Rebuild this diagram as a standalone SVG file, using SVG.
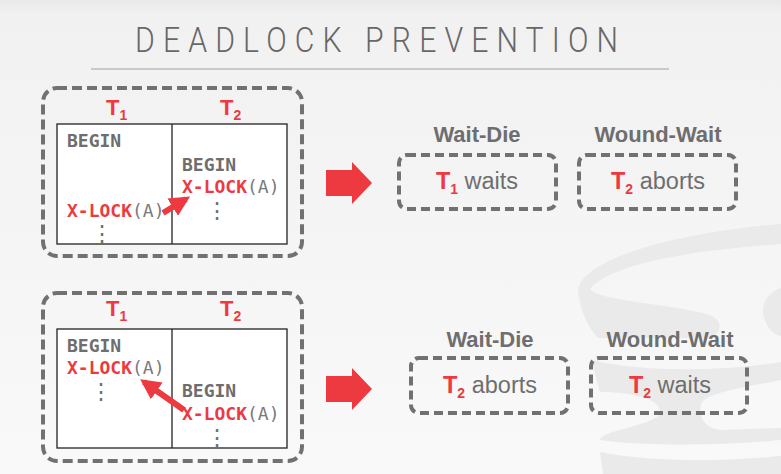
<svg xmlns="http://www.w3.org/2000/svg" width="781" height="474" viewBox="0 0 781 474">
<defs>
<linearGradient id="bg" x1="0" y1="0" x2="0" y2="1">
<stop offset="0" stop-color="#e9e9e9"/>
<stop offset="0.03" stop-color="#f1f1f1"/>
<stop offset="1" stop-color="#f9f9f9"/>
</linearGradient>
<marker id="ah" markerWidth="3.4" markerHeight="3.4" refX="2.6" refY="1.7" orient="auto" markerUnits="strokeWidth">
<path d="M0,0 L3.4,1.7 L0,3.4 Z" fill="#ec3a40"/>
</marker>
<style>
.panel{fill:none;stroke:#717171;stroke-width:4;stroke-dasharray:10 5}
.rbox{fill:none;stroke:#717171;stroke-width:4;stroke-dasharray:9 5}
.tbl{fill:#ffffff;stroke:#222;stroke-width:1.3}
.div{stroke:#222;stroke-width:1.3}
.mono{font-family:"DejaVu Sans Mono","Liberation Mono",monospace;font-size:18px;font-weight:bold;fill:#6e6e6e}
.red{fill:#ec3a40}
.arg{font-weight:normal;fill:#7a7a7a}
.tl{font-family:"Liberation Sans",Arial,sans-serif;font-size:22px;font-weight:bold;fill:#ec3a40}
.sub{font-size:14px}
.hd{font-family:"Liberation Sans",Arial,sans-serif;font-size:22px;font-weight:bold;fill:#6e6e6e;text-anchor:middle}
.res{font-family:"Liberation Sans",Arial,sans-serif;font-size:23.5px;fill:#6e6e6e;text-anchor:middle}
.rT{fill:#ec3a40;font-weight:bold}
.dots{font-family:"DejaVu Sans Mono",monospace;font-size:22px;fill:#6e6e6e;text-anchor:middle}
.wm{fill:#eaeaea}
.conn{stroke:#ec3a40;stroke-width:6;fill:none;marker-end:url(#ah)}
</style>
</defs>
<rect width="781" height="474" fill="url(#bg)"/>
<g id="watermark">
<path class="wm" d="M578,290 C582,258 680,232 781,224 L781,244 C700,250 612,262 590,289 C600,302 680,304 712,316 C724,322 722,336 704,338 L598,338 C590,330 580,312 578,290 Z"/>
<path class="wm" d="M781,288 C768,292 760,305 764,318 C768,330 775,335 781,336 Z"/>
<path class="wm" d="M592,360 C640,372 720,372 781,362 L781,380 C740,388 712,392 702,402 C696,415 705,428 720,430 L781,428 L781,440 C720,446 640,446 600,440 C600,430 660,425 660,412 C660,398 630,392 600,392 C596,380 594,370 592,360 Z"/>
<path class="wm" d="M600,452 C650,462 720,462 781,456 L781,474 L603,474 Z"/>
</g>
<g id="title">
<text transform="translate(135,52) scale(0.84,1)" textLength="575" lengthAdjust="spacing" font-family="Roboto, Liberation Sans, Arial, sans-serif" font-weight="300" font-size="36" fill="#676767">DEADLOCK PREVENTION</text>
<line x1="91" y1="69" x2="669" y2="69" stroke="#c9c9c9" stroke-width="2"/>
</g>
<g id="panel-top">
<rect class="panel" x="43" y="88" width="259" height="168" rx="14"/>
<text class="tl" x="106" y="115">T<tspan class="sub" dy="5">1</tspan></text>
<text class="tl" x="220" y="115">T<tspan class="sub" dy="5">2</tspan></text>
<rect class="tbl" x="57" y="124" width="230" height="120"/>
<line class="div" x1="172" y1="124" x2="172" y2="244"/>
<text class="mono" x="67" y="147">BEGIN</text>
<text class="mono" x="67" y="217"><tspan class="red">X-LOCK</tspan><tspan class="arg">(A)</tspan></text>
<text class="dots" x="102" y="241">⋮</text>
<text class="mono" x="182" y="171">BEGIN</text>
<text class="mono" x="182" y="193"><tspan class="red">X-LOCK</tspan><tspan class="arg">(A)</tspan></text>
<text class="dots" x="217" y="218">⋮</text>
</g>
<g id="panel-bottom">
<rect class="panel" x="43" y="293" width="259" height="168" rx="14"/>
<text class="tl" x="106" y="316">T<tspan class="sub" dy="5">1</tspan></text>
<text class="tl" x="220" y="316">T<tspan class="sub" dy="5">2</tspan></text>
<rect class="tbl" x="57" y="329" width="230" height="119"/>
<line class="div" x1="172" y1="329" x2="172" y2="448"/>
<text class="mono" x="67" y="352">BEGIN</text>
<text class="mono" x="67" y="374"><tspan class="red">X-LOCK</tspan><tspan class="arg">(A)</tspan></text>
<text class="dots" x="101" y="399">⋮</text>
<text class="mono" x="182" y="397">BEGIN</text>
<text class="mono" x="182" y="420"><tspan class="red">X-LOCK</tspan><tspan class="arg">(A)</tspan></text>
<text class="dots" x="217" y="445">⋮</text>
</g>
<g id="connectors">
<line class="conn" x1="163" y1="213" x2="186" y2="199"/>
<line class="conn" x1="184" y1="410" x2="144" y2="382"/>
<polygon points="326,170 352,170 352,162 372,183 352,204 352,196 326,196" fill="#ec3a40"/>
<polygon points="326,376 352,376 352,368 372,389 352,410 352,402 326,402" fill="#ec3a40"/>
</g>
<g id="top-wait-die">
<text class="hd" x="477" y="142">Wait-Die</text>
<rect class="rbox" x="399" y="155" width="157" height="54" rx="8"/>
<text class="res" x="477" y="189"><tspan class="rT">T</tspan><tspan class="rT sub" dy="5">1</tspan><tspan dy="-5"> waits</tspan></text>
</g>
<g id="top-wound-wait">
<text class="hd" x="658" y="142">Wound-Wait</text>
<rect class="rbox" x="579" y="155" width="157" height="54" rx="8"/>
<text class="res" x="658" y="189"><tspan class="rT">T</tspan><tspan class="rT sub" dy="5">2</tspan><tspan dy="-5"> aborts</tspan></text>
</g>
<g id="bottom-wait-die">
<text class="hd" x="490" y="347">Wait-Die</text>
<rect class="rbox" x="411" y="358" width="157" height="55" rx="8"/>
<text class="res" x="490" y="393"><tspan class="rT">T</tspan><tspan class="rT sub" dy="5">2</tspan><tspan dy="-5"> aborts</tspan></text>
</g>
<g id="bottom-wound-wait">
<text class="hd" x="670" y="347">Wound-Wait</text>
<rect class="rbox" x="591" y="358" width="156" height="55" rx="8"/>
<text class="res" x="670" y="393"><tspan class="rT">T</tspan><tspan class="rT sub" dy="5">2</tspan><tspan dy="-5"> waits</tspan></text>
</g>
</svg>
